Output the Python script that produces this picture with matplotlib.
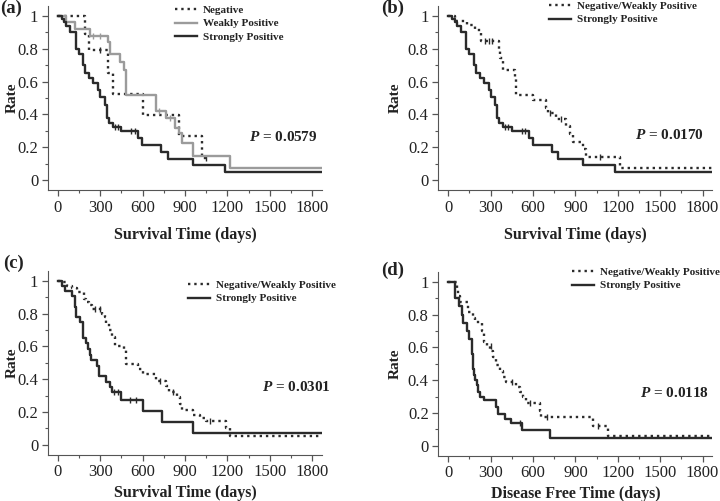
import matplotlib
matplotlib.use('Agg')
import matplotlib.pyplot as plt
import numpy as np

plt.rcParams['font.family'] = ['Liberation Serif', 'DejaVu Serif']
plt.rcParams['mathtext.fontset'] = 'custom'
plt.rcParams['mathtext.rm'] = 'Liberation Serif:bold'
plt.rcParams['mathtext.it'] = 'Liberation Serif:italic:bold'

# ---- data (time in days, survival rate) ----
# strongly positive group (same patients in a and b)
strong_t = [0, 26, 45, 60, 87, 127, 150, 180, 195, 222, 250, 285, 300, 333, 345, 360, 387, 450, 568, 599, 733, 780, 957, 1183, 1866]
strong_s = [1, 0.98, 0.96, 0.94, 0.90, 0.80, 0.765, 0.70, 0.65, 0.62, 0.59, 0.55, 0.505, 0.46, 0.38, 0.35, 0.325, 0.30, 0.255, 0.215, 0.17, 0.13, 0.09, 0.05, 0.05]
strong_cens_t = [401, 425, 520, 545]
strong_cens_s = [0.325, 0.325, 0.30, 0.30]

# (a) negative
neg_t = [0, 190, 222, 356, 392, 600, 856, 1021, 1080]
neg_s = [1, 0.89, 0.79, 0.655, 0.525, 0.395, 0.27, 0.135, 0.135]
neg_cens_t = [300, 1050]
neg_cens_s = [0.79, 0.135]

# (a) weakly positive
weak_t = [0, 60, 120, 226, 356, 368, 440, 467, 481, 698, 769, 828, 860, 882, 958, 1217, 1866]
weak_s = [1, 0.96, 0.92, 0.88, 0.84, 0.77, 0.72, 0.67, 0.52, 0.42, 0.38, 0.32, 0.29, 0.225, 0.15, 0.075, 0.075]
weak_cens_t = [250, 297, 717, 793]
weak_cens_s = [0.88, 0.88, 0.42, 0.38]

# (b) negative/weakly positive
nw_b_t = [0, 47, 130, 189, 231, 360, 366, 388, 471, 482, 600, 694, 705, 765, 835, 859, 882, 953, 976, 1219, 1866]
nw_b_s = [1, 0.97, 0.945, 0.915, 0.848, 0.80, 0.742, 0.67, 0.62, 0.52, 0.49, 0.44, 0.41, 0.37, 0.33, 0.28, 0.235, 0.19, 0.14, 0.075, 0.075]
nw_b_cens_t = [260, 285, 310, 718, 800, 1071]
nw_b_cens_s = [0.848, 0.848, 0.848, 0.41, 0.37, 0.14]

# (c) strongly positive
strong_c_t = [0, 26, 50, 97, 122, 127, 156, 175, 198, 215, 226, 235, 274, 292, 344, 368, 380, 450, 600, 734, 958, 1866]
strong_c_s = [1, 0.97, 0.94, 0.905, 0.84, 0.78, 0.75, 0.65, 0.62, 0.585, 0.55, 0.515, 0.48, 0.42, 0.385, 0.35, 0.32, 0.27, 0.205, 0.14, 0.07, 0.07]
strong_c_cens_t = [400, 425, 510, 555]
strong_c_cens_s = [0.32, 0.32, 0.27, 0.27]

# (c) negative/weakly positive
nw_c_t = [0, 33, 61, 97, 132, 184, 200, 222, 245, 309, 333, 344, 363, 380, 403, 467, 481, 569, 600, 698, 769, 788, 840, 863, 882, 958, 1005, 1052, 1189, 1217, 1866]
nw_c_s = [1, 0.99, 0.97, 0.955, 0.93, 0.89, 0.87, 0.85, 0.83, 0.80, 0.78, 0.74, 0.70, 0.66, 0.60, 0.58, 0.49, 0.46, 0.43, 0.39, 0.36, 0.32, 0.29, 0.25, 0.21, 0.18, 0.16, 0.145, 0.10, 0.055, 0.055]
nw_c_cens_t = [262, 297, 722, 813, 1075]
nw_c_cens_s = [0.83, 0.83, 0.39, 0.32, 0.145]

# (d) strongly positive (disease free)
strong_d_t = [0, 47, 78, 94, 106, 129, 148, 165, 176, 182, 188, 200, 212, 224, 252, 341, 353, 400, 447, 522, 718, 1866]
strong_d_s = [1, 0.90, 0.85, 0.80, 0.75, 0.70, 0.65, 0.56, 0.47, 0.43, 0.40, 0.37, 0.33, 0.30, 0.28, 0.235, 0.195, 0.165, 0.14, 0.095, 0.048, 0.048]
strong_d_cens_t = [505]
strong_d_cens_s = [0.14]

# (d) negative/weakly positive (disease free)
nw_d_t = [0, 59, 71, 85, 141, 178, 190, 236, 250, 271, 295, 318, 337, 365, 388, 407, 482, 506, 530, 553, 647, 659, 1024, 1129, 1866]
nw_d_s = [1, 0.95, 0.913, 0.878, 0.817, 0.78, 0.756, 0.70, 0.634, 0.61, 0.58, 0.54, 0.49, 0.455, 0.42, 0.39, 0.36, 0.33, 0.299, 0.258, 0.21, 0.177, 0.12, 0.061, 0.061]
nw_d_cens_t = [300, 450, 580, 700, 1060]
nw_d_cens_s = [0.61, 0.39, 0.258, 0.177, 0.12]

p_values = ['0.0579', '0.0170', '0.0301', '0.0118']
panel_tags = ['(a)', '(b)', '(c)', '(d)']
x_labels = ['Survival Time (days)', 'Survival Time (days)', 'Survival Time (days)', 'Disease Free Time (days)']

dark = '#2b2b2b'
gray = '#9b9b9b'
W, H = 720, 501


def fx(px):
    return px / W


def fy(py):
    return 1 - py / H


fig = plt.figure(figsize=(7.2, 5.01), dpi=100)

# axes rectangles in pixels: left, top, right, bottom
rects = [(48, 6, 322, 190), (438.4, 6, 712.4, 190), (48, 271, 322, 454.5), (438.4, 272, 712.4, 455.5)]
axes = []
for (l, t, r, b) in rects:
    ax = fig.add_axes([fx(l), fy(b), (r - l) / W, (b - t) / H])
    axes.append(ax)


def km(ax, t, s, ct, cs, color, ls, label):
    ax.step(t, s, where='post', color=color, linestyle=ls, linewidth=1.7, label=label)
    ax.plot(ct, cs, linestyle='none', marker='|', markersize=5, markeredgewidth=1.0, color=color)


# (a)
km(axes[0], neg_t, neg_s, neg_cens_t, neg_cens_s, dark, ':', 'Negative')
km(axes[0], weak_t, weak_s, weak_cens_t, weak_cens_s, gray, '-', 'Weakly Positive')
km(axes[0], strong_t, strong_s, strong_cens_t, strong_cens_s, dark, '-', 'Strongly Positive')
# (b)
km(axes[1], nw_b_t, nw_b_s, nw_b_cens_t, nw_b_cens_s, dark, ':', 'Negative/Weakly Positive')
km(axes[1], strong_t, strong_s, strong_cens_t, strong_cens_s, dark, '-', 'Strongly Positive')
# (c)
km(axes[2], nw_c_t, nw_c_s, nw_c_cens_t, nw_c_cens_s, dark, ':', 'Negative/Weakly Positive')
km(axes[2], strong_c_t, strong_c_s, strong_c_cens_t, strong_c_cens_s, dark, '-', 'Strongly Positive')
# (d)
km(axes[3], nw_d_t, nw_d_s, nw_d_cens_t, nw_d_cens_s, dark, ':', 'Negative/Weakly Positive')
km(axes[3], strong_d_t, strong_d_s, strong_d_cens_t, strong_d_cens_s, dark, '-', 'Strongly Positive')

# legend anchors (upper-left, pixels)
leg_pos = [(175, 5), (549, 1), (188, 280), (572, 267)]
# p-value positions (data coords, right aligned)
p_pos = [(1840, 0.26), (1812, 0.275), (1935, 0.355), (1847, 0.32)]
# tag positions (pixels)
tag_pos = [(0, 8), (381, 8), (3, 263), (381, 270)]
ylab_x = [-0.105, -0.135, -0.105, -0.135]
xlab_y = [-0.2, -0.2, -0.165, -0.165]

for i, ax in enumerate(axes):
    ax.set_xlim(-70, 1870)
    ax.set_ylim(-0.06, 1.06)
    ax.set_xticks(np.arange(0, 1801, 300))
    ax.set_xticks(np.arange(0, 1801, 150), minor=True)
    ax.set_yticks([0, 0.2, 0.4, 0.6, 0.8, 1.0])
    ax.set_yticklabels(['0', '0.2', '0.4', '0.6', '0.8', '1'])
    ax.set_yticks(np.arange(0, 1.01, 0.1), minor=True)
    ax.tick_params(which='major', direction='out', length=4, width=0.9, labelsize=12, pad=3,
                   colors='#555555', labelcolor='#222222')
    ax.tick_params(which='minor', direction='out', length=2.5, width=0.8, colors='#555555')
    ax.spines['top'].set_visible(False)
    ax.spines['right'].set_visible(False)
    ax.spines['left'].set_color('#555555')
    ax.spines['bottom'].set_color('#555555')
    ax.set_ylabel('Rate', fontsize=11, fontweight='bold', color='#222222')
    ax.yaxis.set_label_coords(ylab_x[i], 0.5)
    ax.set_xlabel(x_labels[i], fontsize=11.5, fontweight='bold', color='#222222')
    ax.xaxis.set_label_coords(0.5, xlab_y[i])
    ax.text(p_pos[i][0], p_pos[i][1], r'$P$' + ' = ' + p_values[i], ha='right', va='center',
            fontsize=11, fontweight='bold', color='#222222')
    lx, ly = leg_pos[i]
    ax.legend(loc='upper left', bbox_to_anchor=(fx(lx), fy(ly)), bbox_transform=fig.transFigure,
              frameon=False, borderpad=0, borderaxespad=0, handlelength=2.0, handletextpad=0.5,
              labelspacing=0.35, prop={'size': 8, 'weight': 'bold'}, labelcolor='#222222')
    fig.text(fx(tag_pos[i][0]), fy(tag_pos[i][1]), panel_tags[i], ha='left', va='center',
             fontsize=13.5, fontweight='bold', color='#222222')

plt.savefig('out.png', dpi=100)
